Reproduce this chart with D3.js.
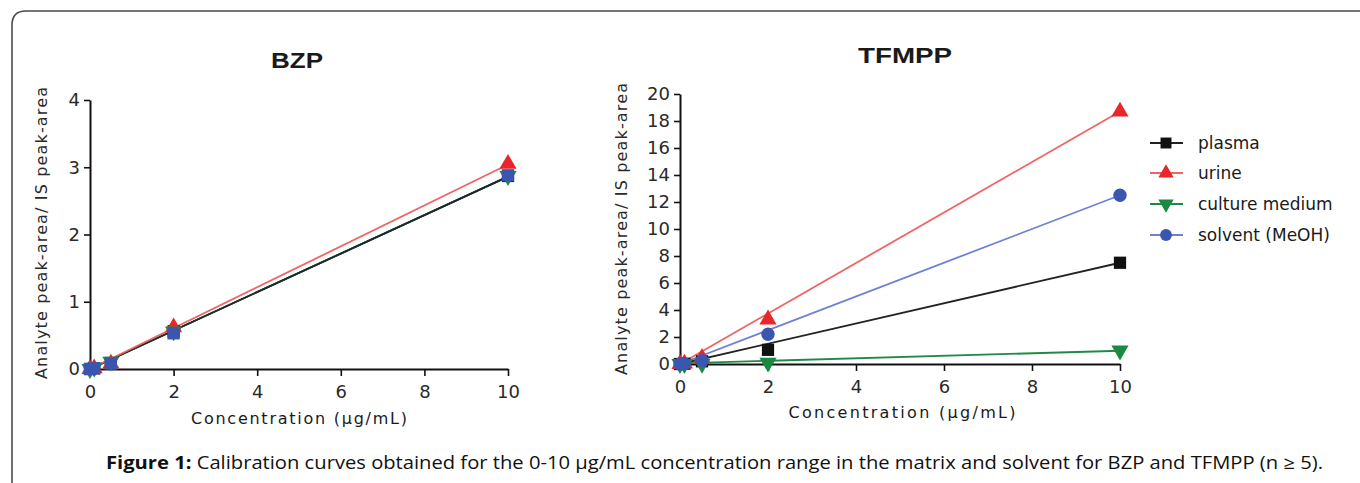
<!DOCTYPE html>
<html>
<head>
<meta charset="utf-8">
<script src="https://cdn.jsdelivr.net/npm/d3@7"></script>
<style>
  html, body { margin: 0; padding: 0; background: #fff; }
  svg { display: block; }
</style>
</head>
<body>
<svg id="chart" width="1360" height="483"></svg>
<script>
// ---------------- DATA ----------------
const concentrations = [0, 0.1, 0.5, 2, 10];
const seriesNames = ["plasma", "urine", "culture medium", "solvent (MeOH)"];

// BZP (analyte/IS peak-area ratios)
const bzpPlasma  = [0, 0.01, 0.09, 0.56, 2.87];
const bzpUrine   = [0, 0.01, 0.08, 0.62, 3.05];
const bzpCulture = [0, 0.02, 0.11, 0.56, 2.87];
const bzpSolvent = [0, 0.01, 0.08, 0.53, 2.88];
// BZP fitted lines: value at 0 and at 10 µg/mL (series order)
const bzpFitAt0  = [0, 0, 0, 0];
const bzpFitAt10 = [2.86, 3.04, 2.86, 2.86];

// TFMPP
const tfPlasma  = [0, 0.02, 0.20, 1.05, 7.5];
const tfUrine   = [0, 0.03, 0.45, 3.3, 18.7];
const tfCulture = [0, 0.00, 0.02, 0.10, 1.0];
const tfSolvent = [0, 0.02, 0.25, 2.2, 12.5];
const tfFitAt0  = [0, 0, 0.05, 0];
const tfFitAt10 = [7.5, 18.7, 0.98, 12.5];

const bzpYTicks = [0, 1, 2, 3, 4];
const tfYTicks = [0, 2, 4, 6, 8, 10, 12, 14, 16, 18, 20];
const xTicks = [0, 2, 4, 6, 8, 10];

// ---------------- STYLE ----------------
const markerColor = ["#111111", "#e8262b", "#1a8a42", "#3b56b0"];
const lineColor   = ["#222222", "#f06464", "#1f8a45", "#6f82d2"];
const markerType  = ["square", "triangle", "triangleDown", "circle"];
const chartFont = "DejaVu Sans, Liberation Sans, Arial, sans-serif";

const svg = d3.select("#chart");

// frame
svg.append("path")
  .attr("d", "M12,500 V25 Q12,11 26,11 H1375")
  .attr("fill", "none").attr("stroke", "#4a4a4a").attr("stroke-width", 1.6);

function symbolPath(type, size) {
  if (type === "square") return d3.symbol(d3.symbolSquare, size)();
  if (type === "circle") return d3.symbol(d3.symbolCircle, size)();
  return d3.symbol(d3.symbolTriangle, size * 0.85)();
}

function drawPanel(opts) {
  const g = svg.append("g");
  const x = d3.scaleLinear().domain([0, 10]).range(opts.xRange);
  const y = d3.scaleLinear().domain(opts.yDomain).range(opts.yRange);

  // title
  g.append("text")
    .attr("x", opts.titleX).attr("y", opts.titleY)
    .attr("text-anchor", "middle")
    .attr("font-family", "Liberation Sans, Arial, sans-serif")
    .attr("font-weight", "bold").attr("font-size", 22)
    .attr("textLength", opts.titleLen).attr("lengthAdjust", "spacingAndGlyphs")
    .attr("fill", "#1a1a1a")
    .text(opts.title);

  // axes
  const yAxis = d3.axisLeft(y).tickValues(opts.yTicks).tickFormat(d3.format("d"))
    .tickSize(6).tickSizeOuter(0).tickPadding(4);
  const xAxis = d3.axisBottom(x).tickValues(xTicks).tickFormat(d3.format("d"))
    .tickSize(7).tickSizeOuter(0).tickPadding(9);

  const ya = g.append("g").attr("transform", `translate(${opts.xRange[0]},0)`).call(yAxis);
  const xa = g.append("g").attr("transform", `translate(0,${opts.yRange[0]})`).call(xAxis);
  [ya, xa].forEach(a => {
    a.select(".domain").attr("stroke", "#111").attr("stroke-width", 2);
    a.selectAll(".tick line").attr("stroke", "#111").attr("stroke-width", 1.6);
    a.selectAll(".tick text").attr("font-family", chartFont).attr("font-size", 18).attr("fill", "#2a2a2a");
  });

  // axis titles
  g.append("text")
    .attr("x", opts.xTitleX).attr("y", opts.xTitleY)
    .attr("text-anchor", "middle")
    .attr("font-family", chartFont).attr("font-size", 16).attr("fill", "#1a1a1a")
    .attr("textLength", opts.xTitleLen).attr("lengthAdjust", "spacing")
    .text("Concentration (µg/mL)");
  g.append("text")
    .attr("transform", `translate(${opts.yTitleX},${opts.yTitleY}) rotate(-90)`)
    .attr("text-anchor", "middle")
    .attr("font-family", chartFont).attr("font-size", 16).attr("fill", "#2a2a2a")
    .attr("textLength", opts.yTitleLen).attr("lengthAdjust", "spacing")
    .text("Analyte peak-area/ IS peak-area");

  // fit lines
  const lineGen = d3.line().x(d => x(d[0])).y(d => y(d[1]));
  opts.lineOrder.forEach(i => {
    g.append("path")
      .datum([[0, opts.fit0[i]], [10, opts.fit10[i]]])
      .attr("d", lineGen)
      .attr("fill", "none")
      .attr("stroke", opts.lineColors ? opts.lineColors[i] : lineColor[i])
      .attr("stroke-width", 1.8);
  });

  // markers
  opts.series.forEach((vals, i) => {
    const type = opts.markerTypes[i];
    g.append("g").selectAll("path")
      .data(concentrations.map((c, k) => [c, vals[k]]))
      .join("path")
      .attr("d", symbolPath(type, type === "circle" ? 140 : 150))
      .attr("transform", d => `translate(${x(d[0])},${y(d[1])})` + (type === "triangleDown" ? " rotate(180)" : ""))
      .attr("fill", markerColor[i]);
  });
}

// BZP panel
drawPanel({
  title: "BZP", titleX: 297, titleY: 68, titleLen: 52,
  xRange: [90, 508], yRange: [369, 100], yDomain: [0, 4], yTicks: bzpYTicks,
  xTitleX: 299, xTitleY: 424, xTitleLen: 216,
  yTitleX: 47, yTitleY: 233, yTitleLen: 292,
  series: [bzpPlasma, bzpUrine, bzpCulture, bzpSolvent],
  fit0: bzpFitAt0, fit10: bzpFitAt10,
  lineOrder: [3, 2, 0, 1],
  lineColors: ["#1e2b22", "#f06464", "#1f5a35", "#3b56b0"],
  markerTypes: ["square", "triangle", "triangleDown", "square"]
});

// TFMPP panel
drawPanel({
  title: "TFMPP", titleX: 905, titleY: 63, titleLen: 94,
  xRange: [680, 1120], yRange: [364, 94], yDomain: [0, 20], yTicks: tfYTicks,
  xTitleX: 902, xTitleY: 418, xTitleLen: 227,
  yTitleX: 627, yTitleY: 229, yTitleLen: 292,
  series: [tfPlasma, tfUrine, tfCulture, tfSolvent],
  fit0: tfFitAt0, fit10: tfFitAt10,
  lineOrder: [2, 0, 3, 1],
  markerTypes: markerType
});

// legend
const legendY = [143, 173, 204, 235];
const legend = svg.append("g");
seriesNames.forEach((name, i) => {
  const row = legend.append("g").attr("transform", `translate(0,${legendY[i]})`);
  row.append("line").attr("x1", 1150).attr("x2", 1183).attr("y1", 0).attr("y2", 0)
    .attr("stroke", lineColor[i]).attr("stroke-width", 2);
  const t = markerType[i];
  row.append("path")
    .attr("d", symbolPath(t, t === "circle" ? 110 : 120))
    .attr("transform", `translate(1166,0)` + (t === "triangleDown" ? " rotate(180)" : ""))
    .attr("fill", markerColor[i]);
  row.append("text").attr("x", 1198).attr("y", 0).attr("dy", "0.35em")
    .attr("font-family", chartFont).attr("font-size", 17).attr("fill", "#1a1a1a")
    .text(name);
});

// caption
const cap = svg.append("text")
  .attr("x", 106).attr("y", 469)
  .attr("font-family", "Open Sans, Liberation Sans, sans-serif").attr("font-size", 17.5)
  .attr("fill", "#111")
  .attr("textLength", 1217).attr("lengthAdjust", "spacingAndGlyphs");
cap.append("tspan").attr("font-weight", "bold").text("Figure 1:");
cap.append("tspan").text(" Calibration curves obtained for the 0-10 µg/mL concentration range in the matrix and solvent for BZP and TFMPP (n ≥ 5).");
</script>
</body>
</html>
